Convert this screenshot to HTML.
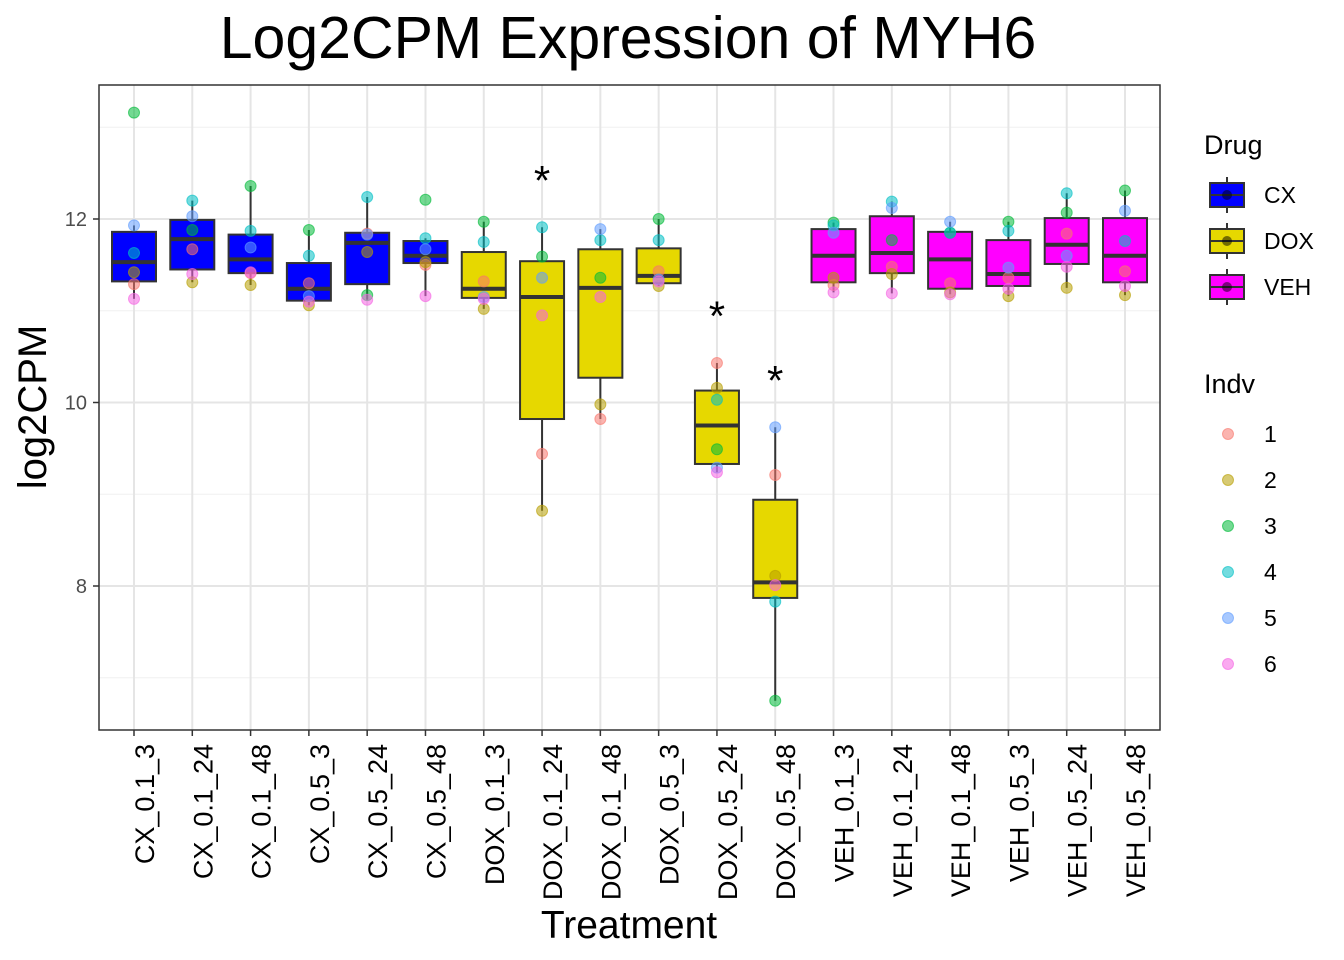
<!DOCTYPE html>
<html><head><meta charset="utf-8"><style>
body{margin:0;background:#fff;}
svg{display:block;font-family:"Liberation Sans",Arial,sans-serif;}
</style></head><body>
<svg id="chart" width="1344" height="960"></svg>
<script>
const categories=["CX_0.1_3","CX_0.1_24","CX_0.1_48","CX_0.5_3","CX_0.5_24","CX_0.5_48","DOX_0.1_3","DOX_0.1_24","DOX_0.1_48","DOX_0.5_3","DOX_0.5_24","DOX_0.5_48","VEH_0.1_3","VEH_0.1_24","VEH_0.1_48","VEH_0.5_3","VEH_0.5_24","VEH_0.5_48"];
const drugs=["CX","CX","CX","CX","CX","CX","DOX","DOX","DOX","DOX","DOX","DOX","VEH","VEH","VEH","VEH","VEH","VEH"];
const q1=[11.32,11.45,11.41,11.11,11.29,11.52,11.14,9.82,10.27,11.30,9.33,7.87,11.31,11.41,11.24,11.27,11.51,11.31];
const med=[11.53,11.78,11.56,11.24,11.74,11.60,11.24,11.15,11.25,11.38,9.75,8.04,11.60,11.63,11.56,11.40,11.72,11.60];
const q3=[11.86,11.99,11.83,11.52,11.85,11.76,11.64,11.54,11.67,11.68,10.13,8.94,11.89,12.03,11.86,11.77,12.01,12.01];
const whiskLo=[11.13,11.31,11.28,11.06,11.12,11.16,11.02,8.82,9.82,11.27,9.24,6.75,11.20,11.19,11.18,11.16,11.25,11.17];
const whiskHi=[11.93,12.20,12.36,11.88,12.24,11.79,11.97,11.91,11.89,12.00,10.43,9.73,11.96,12.19,11.97,11.97,12.28,12.31];
const indv1=[11.29,11.67,11.41,11.30,11.84,11.50,11.32,9.44,9.82,11.43,10.43,9.21,11.28,11.48,11.30,11.36,11.84,11.43];
const indv2=[11.42,11.31,11.28,11.06,11.64,11.53,11.02,8.82,9.98,11.27,10.16,8.11,11.36,11.40,11.20,11.16,11.25,11.17];
const indv3=[13.16,11.88,12.36,11.88,11.17,12.21,11.97,11.59,11.36,12.00,9.49,6.75,11.96,11.77,11.85,11.97,12.07,12.31];
const indv4=[11.63,12.20,11.87,11.60,12.24,11.79,11.75,11.91,11.77,11.77,10.03,7.83,11.93,12.19,11.85,11.87,12.28,11.76];
const indv5=[11.93,12.03,11.69,11.16,11.83,11.67,11.15,11.36,11.89,11.34,9.29,9.73,11.85,12.12,11.97,11.47,11.60,12.09];
const indv6=[11.13,11.40,11.42,11.10,11.12,11.16,11.13,10.95,11.15,11.32,9.24,8.01,11.20,11.19,11.18,11.24,11.48,11.27];
const stars=["","","","","","","","*","","","*","*","","","","","",""];
const yTicks=[8,10,12];
const yMinor=[7,9,11,13];
const drugNames=["CX","DOX","VEH"];
const indvNames=["1","2","3","4","5","6"];

const NS="http://www.w3.org/2000/svg";
const svg=document.getElementById('chart');
const L=99,R=1160,T=85,B=730;
const yScale=v=>219-(v-12)*91.75;
const xScale=i=>134+i*(1125-134)/(categories.length-1);
const drugFill={CX:"#0000FF",DOX:"#E6D800",VEH:"#FF00FF"};
const indvCol=["#F8766D","#B79F00","#00BA38","#00BFC4","#619CFF","#F564E3"];
function mk(tag,attrs,parent){const e=document.createElementNS(NS,tag);for(const k in attrs)e.setAttribute(k,attrs[k]);(parent||svg).appendChild(e);return e;}

const t=mk('text',{x:628,y:58,'font-size':59,'text-anchor':'middle',fill:'#000'});t.textContent="Log2CPM Expression of MYH6";



const grid=mk('g',{});


yMinor.forEach(v=>{const y=yScale(v);if(y>T&&y<B)mk('line',{x1:L,x2:R,y1:y,y2:y,stroke:'#f0f0f0','stroke-width':1},grid);});
yTicks.forEach(v=>{const y=yScale(v);mk('line',{x1:L,x2:R,y1:y,y2:y,stroke:'#e5e5e5','stroke-width':2},grid);});
categories.forEach((c,i)=>{const x=xScale(i);mk('line',{x1:x,x2:x,y1:T,y2:B,stroke:'#e5e5e5','stroke-width':2},grid);});

const allPts=[indv1,indv2,indv3,indv4,indv5,indv6];
categories.forEach((c,i)=>{
  const x=xScale(i),w=44;
  const g=mk('g',{});
  
  
  mk('line',{x1:x,x2:x,y1:yScale(whiskHi[i]),y2:yScale(whiskLo[i]),stroke:'#333','stroke-width':2},g);
  mk('rect',{x:x-w/2,y:yScale(q3[i]),width:w,height:yScale(q1[i])-yScale(q3[i]),fill:drugFill[drugs[i]],stroke:'#333','stroke-width':2},g);
  mk('line',{x1:x-w/2,x2:x+w/2,y1:yScale(med[i]),y2:yScale(med[i]),stroke:'#333','stroke-width':4},g);
  allPts.forEach((arr,k)=>{
    const p=mk('circle',{cx:x,cy:yScale(arr[i]),r:5.5,fill:indvCol[k],'fill-opacity':0.55,stroke:indvCol[k],'stroke-opacity':0.6},g);
    
    
  });
  if(stars[i]){
    const s=mk('text',{x:x,y:yScale(whiskHi[i]+0.56)+19,'font-size':42,'text-anchor':'middle',fill:'#000'},g);s.textContent=stars[i];
    
    
  }
  const lx=x+20,ly=744;
  const lab=mk('text',{x:lx,y:ly,'font-size':27,'text-anchor':'end',fill:'#000',transform:`rotate(-90 ${lx} ${ly})`});lab.textContent=c;
  
  
  mk('line',{x1:x,x2:x,y1:B,y2:B+6,stroke:'#333','stroke-width':1.5});
});

const panel=mk('rect',{x:L,y:T,width:R-L,height:B-T,fill:'none',stroke:'#333','stroke-width':1.5});


yTicks.forEach(v=>{const y=yScale(v);mk('line',{x1:L-6,x2:L,y1:y,y2:y,stroke:'#333','stroke-width':1.5});
  const tl=mk('text',{x:L-12,y:y+7,'font-size':20,'text-anchor':'end',fill:'#4d4d4d'});tl.textContent=v;
  
  });

const yt=mk('text',{x:46,y:407,'font-size':40,'text-anchor':'middle',fill:'#000',transform:'rotate(-90 46 407)'});yt.textContent="log2CPM";


const xt=mk('text',{x:629,y:938,'font-size':39,'text-anchor':'middle',fill:'#000'});xt.textContent="Treatment";



const lg=mk('g',{});


const lt=mk('text',{x:1204,y:154,'font-size':27,fill:'#000'},lg);lt.textContent="Drug";
drugNames.forEach((d,k)=>{
  const cy=195+k*46;
  const e=mk('g',{},lg);
  
  
  mk('line',{x1:1227,x2:1227,y1:cy-18,y2:cy+18,stroke:'#333','stroke-width':2},e);
  mk('rect',{x:1210,y:cy-12,width:34,height:24,fill:drugFill[d],stroke:'#333','stroke-width':2},e);
  mk('line',{x1:1210,x2:1244,y1:cy,y2:cy,stroke:'#333','stroke-width':2},e);
  mk('circle',{cx:1227,cy:cy,r:5,fill:'#000','fill-opacity':0.5},e);
  const tx=mk('text',{x:1264,y:cy+8,'font-size':23,fill:'#000'},e);tx.textContent=d;
});
const lg2=mk('g',{});


const lt2=mk('text',{x:1204,y:393,'font-size':27,fill:'#000'},lg2);lt2.textContent="Indv";
indvNames.forEach((n,k)=>{
  const cy=434+k*46;
  const e=mk('g',{},lg2);
  
  
  mk('circle',{cx:1228,cy:cy,r:5.5,fill:indvCol[k],'fill-opacity':0.55,stroke:indvCol[k],'stroke-opacity':0.6},e);
  const tx=mk('text',{x:1264,y:cy+8,'font-size':23,fill:'#000'},e);tx.textContent=n;
});
</script>
</body></html>
